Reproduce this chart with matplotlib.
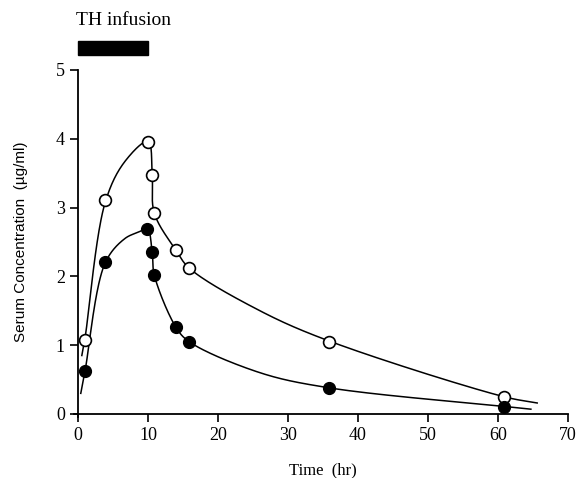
import numpy as np
import matplotlib
matplotlib.use("Agg")
import matplotlib.pyplot as plt

# measured serum concentrations (ug/ml)
t_open = [1.0, 3.9, 10.0, 10.6, 10.9, 14.0, 15.9, 35.9, 60.9]
c_open = [1.08, 3.11, 3.96, 3.47, 2.92, 2.38, 2.12, 1.05, 0.24]
t_filled = [1.0, 3.9, 9.9, 10.6, 10.9, 14.0, 15.9, 35.9, 60.9]
c_filled = [0.62, 2.21, 2.69, 2.35, 2.02, 1.26, 1.05, 0.38, 0.10]

# fitted curve guide points
fit_t_open = [0.55, 1.0, 3.9, 6.7, 10.0, 10.6, 10.9, 14.0, 15.9, 26.0, 35.9, 60.9, 65.6]
fit_c_open = [0.85, 1.1, 3.08, 3.67, 3.96, 3.47, 2.92, 2.38, 2.12, 1.5, 1.06, 0.25, 0.16]
fit_t_filled = [0.4, 1.0, 3.9, 6.7, 8.8, 9.9, 10.6, 10.9, 14.0, 15.9, 26.0, 35.9, 60.9, 64.7]
fit_c_filled = [0.3, 0.62, 2.2, 2.55, 2.65, 2.7, 2.35, 2.02, 1.26, 1.05, 0.6, 0.38, 0.11, 0.07]

infusion = (0, 10)
xticks = [0, 10, 20, 30, 40, 50, 60, 70]
yticks = [0, 1, 2, 3, 4, 5]


def smooth_curve(x, y, n=40):
    # centripetal catmull-rom, done in roughly pixel-scaled space
    sx, sy = 7.0, 68.8
    P = np.column_stack([np.asarray(x, float) * sx, np.asarray(y, float) * sy])
    P = np.vstack([2 * P[0] - P[1], P, 2 * P[-1] - P[-2]])
    pts = []
    for i in range(1, len(P) - 2):
        p0, p1, p2, p3 = P[i - 1], P[i], P[i + 1], P[i + 2]
        t0 = 0.0
        t1 = t0 + np.linalg.norm(p1 - p0) ** 0.5
        t2 = t1 + np.linalg.norm(p2 - p1) ** 0.5
        t3 = t2 + np.linalg.norm(p3 - p2) ** 0.5
        t = np.linspace(t1, t2, n)[:, None]
        a1 = (t1 - t) / (t1 - t0) * p0 + (t - t0) / (t1 - t0) * p1
        a2 = (t2 - t) / (t2 - t1) * p1 + (t - t1) / (t2 - t1) * p2
        a3 = (t3 - t) / (t3 - t2) * p2 + (t - t2) / (t3 - t2) * p3
        b1 = (t2 - t) / (t2 - t0) * a1 + (t - t0) / (t2 - t0) * a2
        b2 = (t3 - t) / (t3 - t1) * a2 + (t - t1) / (t3 - t1) * a3
        c = (t2 - t) / (t2 - t1) * b1 + (t - t1) / (t2 - t1) * b2
        pts.append(c)
    pts = np.vstack(pts)
    return pts[:, 0] / sx, pts[:, 1] / sy


serif = "Liberation Serif"
sans = "Liberation Sans"

fig = plt.figure(figsize=(5.78, 4.78), dpi=100)
ax = fig.add_axes([0.1228, 0.1195, 0.872, 0.7485])
ax.set_xlim(-1, 71)
ax.set_ylim(-0.1, 5.1)

for ft, fc in [(fit_t_open, fit_c_open), (fit_t_filled, fit_c_filled)]:
    xs, ys = smooth_curve(ft, fc)
    ax.plot(xs, ys, color="black", lw=1.1)

ax.plot(t_open, c_open, "o", ms=8.5, mfc="white", mec="black", mew=1.2)
ax.plot(t_filled, c_filled, "o", ms=8.5, mfc="black", mec="black")

for s in ["top", "right"]:
    ax.spines[s].set_visible(False)
ax.spines["left"].set_position(("data", 0))
ax.spines["bottom"].set_position(("data", 0))
ax.spines["left"].set_bounds(-0.05, 5)
ax.spines["bottom"].set_bounds(-0.5, 70)
ax.spines["left"].set_linewidth(1.3)
ax.spines["bottom"].set_linewidth(1.3)
ax.set_xticks(xticks)
ax.set_yticks(yticks)
ax.tick_params(direction="out", length=6, width=1.2, labelsize=13)
for lab in ax.get_xticklabels() + ax.get_yticklabels():
    lab.set_fontfamily(serif)

ax.set_xlabel("Time  (hr)", fontfamily=serif, fontsize=12)
ax.xaxis.set_label_coords(0.5, -0.115)
ax.set_ylabel("Serum Concentration  (µg/ml)", fontfamily=sans, fontsize=11)
ax.yaxis.set_label_coords(-0.085, 0.5)

# infusion bar above the axes
ax.add_patch(plt.Rectangle((infusion[0], 5.22), infusion[1] - infusion[0], 0.2,
                           color="black", clip_on=False))
ax.text(-0.3, 5.72, "TH infusion", fontfamily=serif, fontsize=14,
        ha="left", va="center", clip_on=False)

fig.savefig("out.png", dpi=100)
